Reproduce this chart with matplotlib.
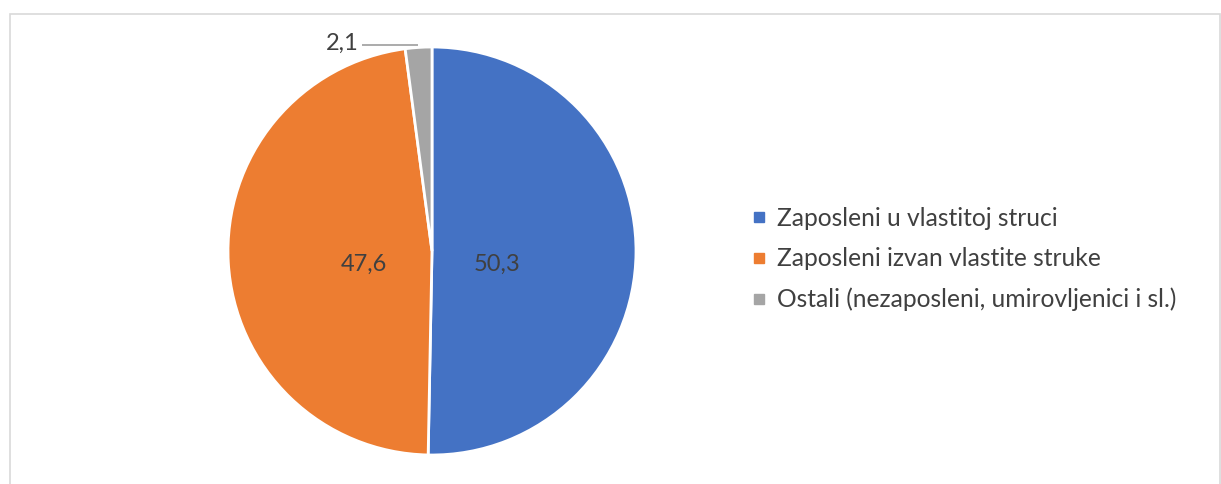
import matplotlib
matplotlib.use("Agg")
import matplotlib.pyplot as plt
from matplotlib.lines import Line2D
from matplotlib.patches import Rectangle

categories = [
    "Zaposleni u vlastitoj struci",
    "Zaposleni izvan vlastite struke",
    "Ostali (nezaposleni, umirovljenici i sl.)",
]
values = [50.3, 47.6, 2.1]
value_labels = ["50,3", "47,6", "2,1"]
colors = ["#4472C4", "#ED7D31", "#A5A5A5"]
text_color = "#404040"

plt.rcParams["font.family"] = ["Lato", "DejaVu Sans"]

W, H = 1221, 484
fig = plt.figure(figsize=(W / 100, H / 100), dpi=100)

# chart area border
fig.add_artist(Rectangle((9.5 / W, -0.05), (1219.5 - 9.5) / W, 1.05 - 14.5 / H,
                         transform=fig.transFigure, fill=False,
                         edgecolor="#D9D9D9", linewidth=1.2))

cx, cy, r = 432, 251, 204
ax = fig.add_axes([(cx - r) / W, (H - cy - r) / H, 2 * r / W, 2 * r / H])

wedges, _ = ax.pie(values, colors=colors, startangle=90, counterclock=False,
                   radius=1.0,
                   wedgeprops=dict(edgecolor="white", linewidth=2.0))
ax.set_xlim(-1, 1)
ax.set_ylim(-1, 1)
ax.axis("off")

# value labels
label_pos = [(0.32, -0.065), (-0.335, -0.065), (-0.44, 1.02)]
for (x, y), txt in zip(label_pos, value_labels):
    ax.text(x, y, txt, ha="center", va="center", fontsize=17, color=text_color,
            clip_on=False)

# leader line for the small slice
ax.plot([-0.343, -0.07], [1.008, 1.008], color="#A5A5A5", linewidth=1.3,
        clip_on=False, solid_capstyle="butt")

handles = [Line2D([0], [0], marker="s", linestyle="none", markersize=7,
                  markerfacecolor=c, markeredgecolor=c) for c in colors]
fig.legend(handles, categories, loc="center left",
           bbox_to_anchor=(752 / W, (H - 259) / H), frameon=False,
           fontsize=17.7, labelcolor=text_color, handlelength=0.6,
           handletextpad=0.4, labelspacing=0.72, borderpad=0, borderaxespad=0)

fig.savefig("out.png", dpi=100)
